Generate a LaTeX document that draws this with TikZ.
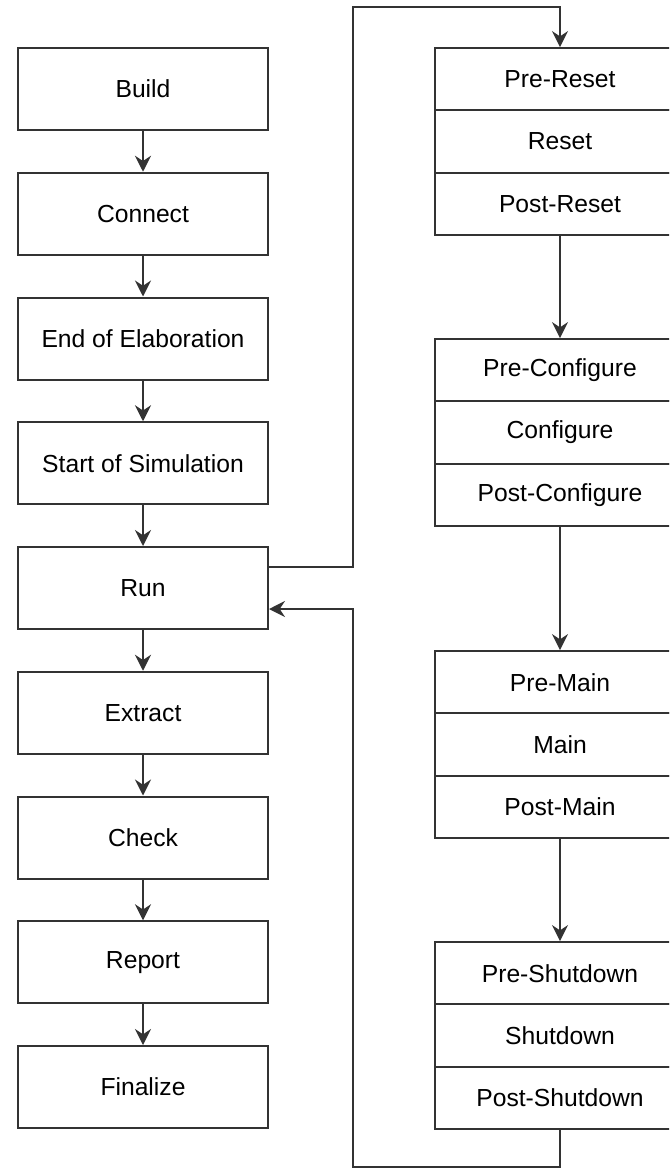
\documentclass[tikz,border=0pt]{standalone}
\usepackage{fontspec}
\setmainfont{Liberation Sans}
\usetikzlibrary{arrows.meta,calc}

\begin{document}
\begin{tikzpicture}[x=0.75pt,y=-0.75pt,
  line/.style={draw=black!80,line width=1.5pt},
  arr/.style={line,-{Stealth[length=12pt,width=12pt,inset=4pt]}},
  phase/.style={line,fill=white,rectangle,minimum width=187.5pt,minimum height=61.5pt,
    inner sep=0pt,font=\fontsize{18.5}{22}\selectfont},
  sub/.style={line,fill=white,rectangle,minimum width=187.5pt,minimum height=46.7pt,
    inner sep=0pt,font=\fontsize{18.5}{22}\selectfont}]
  \useasboundingbox (0,0) rectangle (669,1170);
  \clip (0,0) rectangle (669,1170);

  % main phases
  \node[phase] (build)    at (143,89)     {Build};
  \node[phase] (connect)  at (143,213.75) {Connect};
  \node[phase] (eoe)      at (143,338.5)  {End of Elaboration};
  \node[phase] (sos)      at (143,463.25) {Start of Simulation};
  \node[phase] (run)      at (143,588)    {Run};
  \node[phase] (extract)  at (143,712.75) {Extract};
  \node[phase] (check)    at (143,837.5)  {Check};
  \node[phase] (report)   at (143,962.25) {Report};
  \node[phase] (finalize) at (143,1087)   {Finalize};

  \foreach \a/\b in {build/connect,connect/eoe,eoe/sos,sos/run,run/extract,
                     extract/check,check/report,report/finalize}
    \draw[arr] (\a) -- (\b);

  % run-time sub-phases
  \node[sub] (prereset)  at (560,79.2)   {Pre-Reset};
  \node[sub] (reset)     at (560,141.5)  {Reset};
  \node[sub] (postreset) at (560,203.8)  {Post-Reset};

  \node[sub] (precfg)    at (560,370.2)  {Pre-Configure};
  \node[sub] (cfg)       at (560,432.5)  {Configure};
  \node[sub] (postcfg)   at (560,494.8)  {Post-Configure};

  \node[sub] (premain)   at (560,682.2)  {Pre-Main};
  \node[sub] (main)      at (560,744.5)  {Main};
  \node[sub] (postmain)  at (560,806.8)  {Post-Main};

  \node[sub] (preshut)   at (560,973.2)  {Pre-Shutdown};
  \node[sub] (shut)      at (560,1035.5) {Shutdown};
  \node[sub] (postshut)  at (560,1097.8) {Post-Shutdown};

  \draw[arr] (postreset) -- (precfg);
  \draw[arr] (postcfg) -- (premain);
  \draw[arr] (postmain) -- (preshut);

  % loop from Run into the sub-phases and back
  \coordinate (runout) at ($(run.north east)!0.25!(run.south east)$);
  \coordinate (runin)  at ($(run.north east)!0.75!(run.south east)$);
  \coordinate (top)    at (352.5,7);
  \coordinate (bot)    at (352.5,1167);

  \draw[arr] (runout) -| (top) -| (prereset.north);
  \draw[arr] (postshut.south) |- (bot) |- (runin);
\end{tikzpicture}
\end{document}
